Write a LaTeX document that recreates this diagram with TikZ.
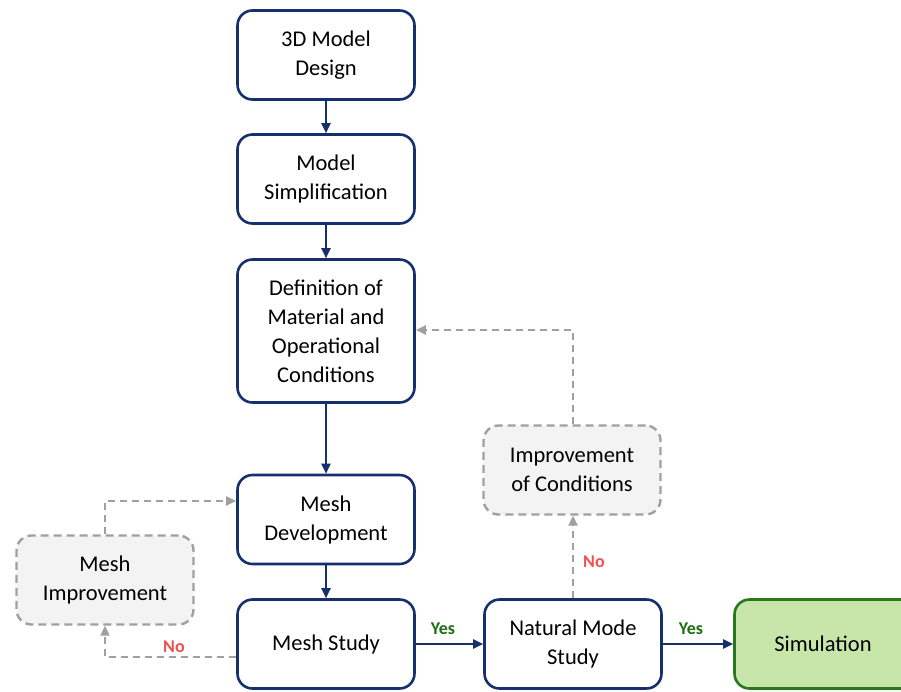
\documentclass[tikz,border=0pt]{standalone}
\usepackage{fontspec}
\setmainfont{Carlito}
\usetikzlibrary{arrows.meta}
\definecolor{navy}{RGB}{22,48,110}
\definecolor{grayline}{RGB}{160,160,160}
\definecolor{grayfill}{RGB}{243,243,243}
\definecolor{simfill}{RGB}{200,230,170}
\definecolor{simline}{RGB}{40,120,30}
\definecolor{yesgreen}{RGB}{30,110,20}
\definecolor{nored}{RGB}{240,80,80}
\tikzset{
  box/.style={draw=navy, line width=2.6pt, fill=white, rounded corners=15pt,
    minimum width=177pt, minimum height=89pt, align=center,
    font=\fontsize{22.5}{29}\selectfont, inner sep=0pt},
  dbox/.style={draw=grayline, line width=2.4pt, fill=grayfill, rounded corners=15pt,
    dash pattern=on 8pt off 5pt,
    minimum width=177pt, minimum height=89pt, align=center,
    font=\fontsize{22.5}{29}\selectfont, inner sep=0pt},
  sbox/.style={draw=simline, line width=2.6pt, fill=simfill, rounded corners=15pt,
    minimum width=177pt, minimum height=89pt, align=center,
    font=\fontsize{22.5}{29}\selectfont, inner sep=0pt},
  flow/.style={draw=navy, line width=2pt, -{Triangle[length=10pt,width=9pt]}},
  dflow/.style={draw=grayline, line width=2.2pt, dash pattern=on 7pt off 5pt,
    -{Triangle[length=10pt,width=9pt]}},
  yes/.style={text=yesgreen, font=\fontsize{18}{20}\selectfont\bfseries},
  no/.style={text=nored, font=\fontsize{18}{20}\selectfont\bfseries},
}
\begin{document}
\begin{tikzpicture}[x=1pt,y=-1pt]
\useasboundingbox[fill=white] (0,0) rectangle (901,691);
\node[box] (design) at (326,55) {3D Model\\Design};
\node[box] (simp) at (326,179) {Model\\Simplification};
\node[box, minimum height=143pt] (def) at (326,331) {Definition of\\Material and\\Operational\\Conditions};
\node[box] (dev) at (326,519.5) {Mesh\\Development};
\node[box] (study) at (326,644) {Mesh Study};
\node[dbox] (mimp) at (105,580) {Mesh\\Improvement};
\node[box] (nat) at (573,644) {Natural Mode\\Study};
\node[dbox] (cimp) at (572,470) {Improvement\\of Conditions};
\node[sbox, minimum width=205pt] (sim) at (837,644) {Simulation\hspace*{28pt}};

\draw[flow] (design) -- (simp);
\draw[flow] (simp) -- (def);
\draw[flow] (def) -- (dev);
\draw[flow] (dev) -- (study);
\draw[flow] (study) -- (nat);
\draw[flow] (nat) -- (sim);
\node[yes] (yes1) at (443,629) {Yes};
\node[yes] (yes2) at (691,629) {Yes};

\coordinate (c1) at (573,330);
\draw[dflow] (nat.north -| c1) -- (cimp.south -| c1);
\draw[dflow] (cimp.north -| c1) -- (c1) -- (def.east |- c1);
\node[no] (no1) at (594,562) {No};

\coordinate (c2) at (105,657);
\draw[dflow] (study.west |- c2) -- (c2) -- (mimp.south);
\node[no] (no2) at (174,647) {No};

\coordinate (c3) at (105,501);
\draw[dflow] (mimp.north) -- (c3) -- (dev.west |- c3);
\end{tikzpicture}
\end{document}
